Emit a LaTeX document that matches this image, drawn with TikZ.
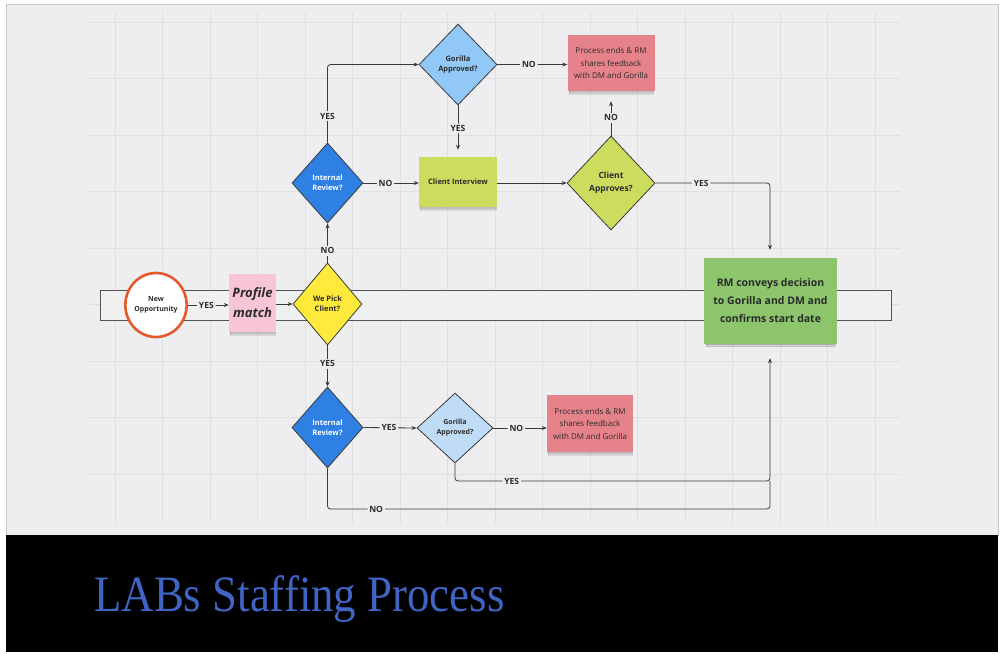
\documentclass[tikz,border=0pt]{standalone}
\usepackage{fontspec}
\setmainfont{Open Sans}
\newfontfamily\titlefont{Liberation Serif}
\usetikzlibrary{shapes.geometric,arrows.meta,shadows}
\definecolor{bgc}{HTML}{EEEDF0}
\definecolor{gridc}{HTML}{E0E0E4}
\definecolor{linec}{HTML}{3A3A3A}
\definecolor{irblue}{HTML}{2F80E3}
\definecolor{gablue}{HTML}{92C8F7}
\definecolor{gablue2}{HTML}{C0DBF5}
\definecolor{pickyel}{HTML}{FFE93B}
\definecolor{lime}{HTML}{CBDC5F}
\definecolor{salmon}{HTML}{E6838A}
\definecolor{greenbox}{HTML}{8CC56B}
\definecolor{profpink}{HTML}{F8C5D8}
\definecolor{oppred}{HTML}{E35A2D}
\definecolor{titleblue}{HTML}{3F64C2}
\definecolor{txt}{HTML}{2B2B2B}
\tikzset{
  dia/.style={diamond, draw=linec, line width=0.8pt, inner sep=0pt, align=center,
    font=\fontsize{7.5}{10}\selectfont\bfseries, text=txt},
  note/.style={rectangle, inner sep=0pt, align=center, text=txt,
    double copy shadow={shadow xshift=0pt, shadow yshift=-2pt, opacity=0.10, fill=black, shadow scale=0.97}},
  lbl/.style={fill=bgc, inner sep=1.8pt, text=txt, font=\fontsize{8.5}{10}\selectfont\bfseries},
  conn/.style={draw=linec, line width=0.8pt, rounded corners=3pt},
  arr/.style={conn, -{Stealth[length=5pt,width=4pt]}},
}
\begin{document}
\begin{tikzpicture}[x=1pt,y=-1pt]
\useasboundingbox (0,0) rectangle (1000,657);
\fill[white] (0,0) rectangle (1000,657);
\filldraw[fill=bgc, draw=gray!45, line width=0.8pt] (6,4) rectangle (998,535);
% grid
\foreach \k in {0,...,16} \draw[gridc, line width=1pt] (115+47.5*\k,12) -- (115+47.5*\k,523);
\foreach \k in {0,...,8} \draw[gridc, line width=1pt] (88,22+56.5*\k) -- (900,22+56.5*\k);
% band
\filldraw[fill=gray!12, draw=gray!65!black, line width=0.9pt] (100,290) rectangle (891,320);
% title bar
\fill[black] (6,535) rectangle (998,652);
\node[anchor=base west, inner sep=0pt, text=titleblue, font=\titlefont\fontsize{51}{55}\selectfont, xscale=0.88] (title) at (94,611) {LABs Staffing Process};

% nodes
\node[ellipse, draw=oppred, fill=white, line width=2.6pt, minimum width=60pt, minimum height=64pt, inner sep=0pt, align=center, text=txt, font=\fontsize{7}{10}\selectfont\bfseries] (new) at (156,305) {New\\Opportunity};
\node[note, fill=profpink, minimum width=47pt, minimum height=58pt, font=\fontsize{13}{20}\selectfont\bfseries\itshape] (prof) at (252.5,303) {Profile\\match};
\node[dia, fill=pickyel, minimum width=69pt, minimum height=82pt] (pick) at (327.5,304) {We Pick\\Client?};
\node[dia, fill=irblue, text=white, minimum width=71pt, minimum height=80pt] (ir1) at (327.5,183) {Internal\\Review?};
\node[dia, fill=gablue, text=txt, minimum width=78pt, minimum height=81pt] (ga1) at (458,64.5) {Gorilla\\Approved?};
\node[note, fill=salmon, minimum width=87pt, minimum height=56pt, font=\fontsize{8}{12.5}\selectfont] (pink1) at (611,63) {Process ends \& RM\\shares feedback\\with DM and Gorilla};
\node[note, fill=lime, minimum width=78pt, minimum height=50pt, font=\fontsize{7.5}{10}\selectfont\bfseries] (ci) at (458,182) {Client Interview};
\node[dia, fill=lime, minimum width=88pt, minimum height=94pt, font=\fontsize{8.5}{13}\selectfont\bfseries] (ca) at (611,183) {Client\\Approves?};
\node[note, fill=greenbox, minimum width=133pt, minimum height=86pt, font=\fontsize{10.5}{18}\selectfont\bfseries] (green) at (770.5,301) {RM conveys decision\\to Gorilla and DM and\\confirms start date};
\node[dia, fill=irblue, text=white, minimum width=71pt, minimum height=81pt] (ir2) at (327.5,427.5) {Internal\\Review?};
\node[dia, fill=gablue2, minimum width=76pt, minimum height=70pt, font=\fontsize{7}{10}\selectfont\bfseries] (ga2) at (455,428) {Gorilla\\Approved?};
\node[note, fill=salmon, minimum width=86pt, minimum height=57pt, font=\fontsize{8}{12.5}\selectfont] (pink2) at (590,423.5) {Process ends \& RM\\shares feedback\\with DM and Gorilla};

\coordinate (c1) at (770,481);
\coordinate (c2) at (770,509);

% connectors
\draw[arr] (new.east) -- node[lbl, pos=0.45] {YES} (new.east -| prof.west);
\draw[arr] (prof.east |- pick.west) -- (pick.west);
\draw[arr] (pick.north) -- node[lbl, pos=0.3] {NO} (ir1.south);
\draw[arr] (ir1.north) |- node[lbl, pos=0.17] {YES} (ga1.west);
\draw[arr] (ga1.east) -- node[lbl, pos=0.45] {NO} (ga1.east -| pink1.west);
\draw[arr, shorten >=7pt] (ga1.south) -- node[lbl, pos=0.45] {YES} (ci.north);
\draw[arr] (ir1.east) -- node[lbl, pos=0.4] {NO} (ir1.east -| ci.west);
\draw[arr] (ci.east |- ca.west) -- (ca.west);
\draw[arr, shorten >=10pt] (ca.north) -- node[lbl, pos=0.4] {NO} (pink1.south);
\draw[arr, shorten >=8pt] (ca.east) -| node[lbl, pos=0.2] {YES} (green.north -| c1);
\draw[arr] (pick.south) -- node[lbl, pos=0.45] {YES} (ir2.north);
\draw[arr] (ir2.east) -- node[lbl, pos=0.48] {YES} (ga2.west);
\draw[arr] (ga2.east) -- node[lbl, pos=0.43] {NO} (ga2.east -| pink2.west);
\draw[conn] (ir2.south) |- node[lbl, pos=0.555] {NO} (c2) -- (c1);
\draw[arr, shorten >=14pt] (ga2.south) |- node[lbl, pos=0.59] {YES} (c1) -- (green.south -| c1);
\end{tikzpicture}
\end{document}
